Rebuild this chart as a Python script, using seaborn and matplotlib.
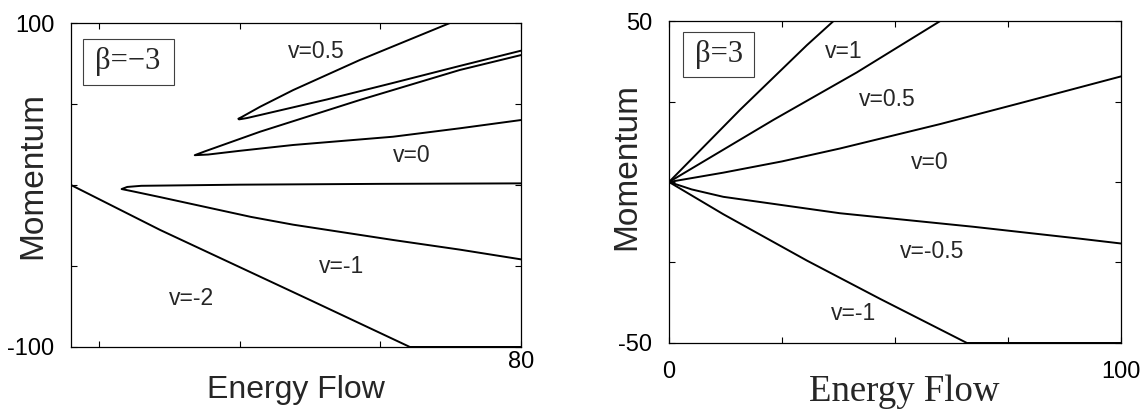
import matplotlib
matplotlib.use('Agg')  #Non-interactive backend
import matplotlib.pyplot as plt
import seaborn as sns
from matplotlib.patches import Rectangle

#Left panel, beta=-3 (loops run lower branch -> tip -> upper branch)
left_vm2_x = [16, 28.7, 50.0, 64.2, 80]
left_vm2_y = [0, -27.8, -71.0, -100, -100]
left_vm1_x = [80, 71.3, 61.9, 47.6, 41.6, 28.7, 25.0, 23.2, 24.0, 26.0, 40, 60, 80]
left_vm1_y = [-45.9, -39.9, -34.0, -24.5, -19.7, -7.5, -4.1, -2.5, -1.2, -0.5, 0.2, 0.7, 1.0]
left_v0_x = [80, 71.3, 61.8, 47.6, 40.0, 35.5, 33.6, 35.0, 42.9, 57.1, 71.3, 80]
left_v0_y = [40.1, 35.0, 29.8, 24.7, 21.1, 18.8, 18.4, 20.7, 32.9, 52.5, 71.0, 80.2]
left_v05_x = [80, 71.3, 61.8, 52.4, 42.9, 41.0, 39.9, 39.8, 40.3, 42.9, 47.6, 57.1, 69.9, 80]
left_v05_y = [82.9, 73.5, 63.0, 52.8, 43.2, 41.3, 40.5, 40.9, 42.0, 48.3, 58.6, 77.2, 100, 100]

#Right panel, beta=3
right_v1_x = [0, 15.7, 30.5, 36.4, 100]
right_v1_y = [0, 22.4, 42.5, 50, 50]
right_v05_x = [0, 23.1, 41.5, 60.0, 100]
right_v05_y = [0, 19.3, 34.0, 50, 50]
right_v0_x = [0, 12.0, 25.0, 37.8, 60.0, 77.7, 100]
right_v0_y = [0, 2.9, 6.4, 10.4, 18.0, 24.5, 32.8]
right_vm05_x = [0, 5.0, 12.0, 37.8, 67.3, 90.9, 100]
right_vm05_y = [0, -2.3, -4.6, -9.7, -13.9, -17.6, -19.1]
right_vm1_x = [0, 12.0, 30.5, 46.7, 65.9, 100]
right_vm1_y = [0, -10.0, -24.4, -36.3, -50, -50]

left_xticks = [20, 40, 60, 80]
left_xticklabels = ['', '', '', '80']
left_yticks = [-100, -50, 0, 50, 100]
left_yticklabels = ['-100', '', '', '', '100']
right_xticks = [0, 25, 50, 75, 100]
right_xticklabels = ['0', '', '', '', '100']
right_yticks = [-50, -25, 0, 25, 50]
right_yticklabels = ['-50', '', '', '', '50']

sns.set_theme(style='ticks')
plt.rcParams['font.family'] = ['Liberation Sans', 'DejaVu Sans']
SERIF = ['Liberation Serif', 'DejaVu Serif']

fig = plt.figure(figsize=(11.45, 4.16), dpi=100)
ax1 = fig.add_axes([0.0620, 0.1659, 0.3930, 0.7788])
ax2 = fig.add_axes([0.5843, 0.1755, 0.3948, 0.7740])


def draw(ax, xs, ys):
    sns.lineplot(x=xs, y=ys, sort=False, estimator=None, color='black',
                 linewidth=1.4, ax=ax)


def style_axes(ax):
    for sp in ax.spines.values():
        sp.set_visible(True)
        sp.set_linewidth(0.9)
        sp.set_color('black')
    ax.tick_params(direction='in', length=4, width=0.8, top=True, right=True,
                   labelsize=17, colors='black')
    ax.grid(False)


#Left panel
for xs, ys in [(left_vm2_x, left_vm2_y), (left_vm1_x, left_vm1_y),
               (left_v0_x, left_v0_y), (left_v05_x, left_v05_y)]:
    draw(ax1, xs, ys)
ax1.set_xlim(16, 80)
ax1.set_ylim(-100, 100)
style_axes(ax1)
ax1.set_xticks(left_xticks)
ax1.set_xticklabels(left_xticklabels)
ax1.set_yticks(left_yticks)
ax1.set_yticklabels(left_yticklabels)
ax1.tick_params(axis='x', pad=3)
ax1.tick_params(axis='y', pad=12)
ax1.set_xlabel('Energy Flow', fontsize=23, va='center')
ax1.xaxis.set_label_coords(0.5, -0.133)
ax1.set_ylabel('Momentum', fontsize=24, va='center')
ax1.yaxis.set_label_coords(-0.084, 0.528)

ax1.text(50.9, 82.3, 'v=0.5', fontsize=16.5, ha='center', va='center')
ax1.text(64.5, 18.5, 'v=0', fontsize=16.5, ha='center', va='center')
ax1.text(54.5, -50.4, 'v=-1', fontsize=16.5, ha='center', va='center')
ax1.text(33.2, -69.8, 'v=-2', fontsize=16.5, ha='center', va='center')
ax1.add_patch(Rectangle((0.027, 0.809), 0.203, 0.141, transform=ax1.transAxes,
                        fill=False, lw=0.8, ec='0.25'))
ax1.text(0.127, 0.881, 'β=−3', transform=ax1.transAxes, fontsize=22,
         family=SERIF, ha='center', va='center')

#Right panel
for xs, ys in [(right_v1_x, right_v1_y), (right_v05_x, right_v05_y),
               (right_v0_x, right_v0_y), (right_vm05_x, right_vm05_y),
               (right_vm1_x, right_vm1_y)]:
    draw(ax2, xs, ys)
ax2.set_xlim(0, 100)
ax2.set_ylim(-50, 50)
style_axes(ax2)
ax2.set_xticks(right_xticks)
ax2.set_xticklabels(right_xticklabels)
ax2.set_yticks(right_yticks)
ax2.set_yticklabels(right_yticklabels)
ax2.tick_params(axis='x', pad=13)
ax2.tick_params(axis='y', pad=12)
ax2.set_xlabel('Energy Flow', fontsize=26.5, family=SERIF, va='center')
ax2.xaxis.set_label_coords(0.52, -0.152)
ax2.set_ylabel('Momentum', fontsize=24, va='center')
ax2.yaxis.set_label_coords(-0.093, 0.547)

ax2.text(38.6, 40.5, 'v=1', fontsize=16.5, ha='center', va='center')
ax2.text(48.2, 25.5, 'v=0.5', fontsize=16.5, ha='center', va='center')
ax2.text(57.7, 6.1, 'v=0', fontsize=16.5, ha='center', va='center')
ax2.text(58.1, -21.6, 'v=-0.5', fontsize=16.5, ha='center', va='center')
ax2.text(40.8, -40.8, 'v=-1', fontsize=16.5, ha='center', va='center')
ax2.add_patch(Rectangle((0.030, 0.827), 0.159, 0.140, transform=ax2.transAxes,
                        fill=False, lw=0.8, ec='0.25'))
ax2.text(0.110, 0.897, 'β=3', transform=ax2.transAxes, fontsize=22,
         family=SERIF, ha='center', va='center')

fig.savefig('out.png', dpi=100)
plt.close(fig)
